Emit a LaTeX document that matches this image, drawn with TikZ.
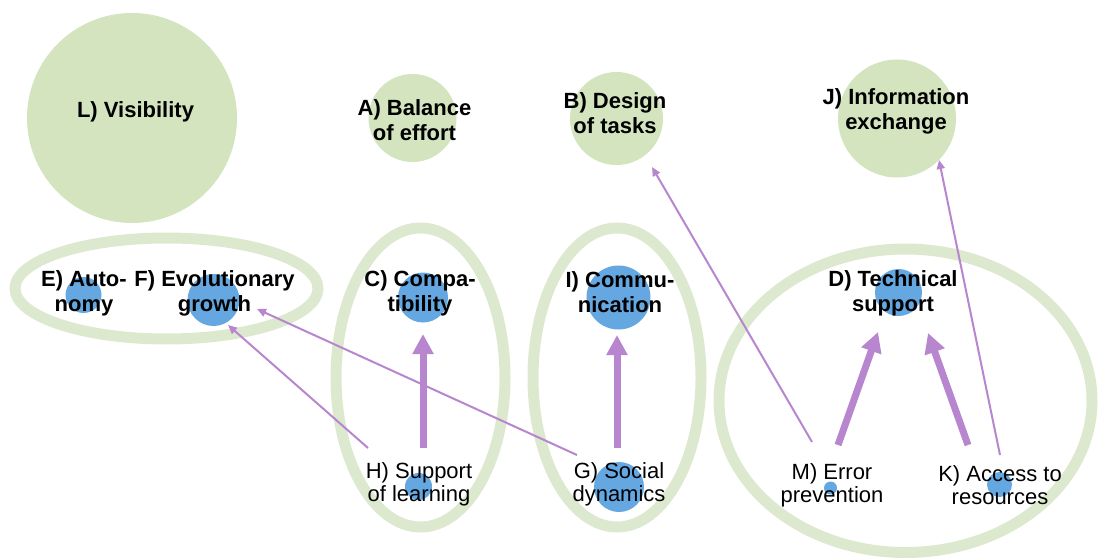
\documentclass[tikz,border=0pt]{standalone}
\usepackage{fontspec}
\setmainfont{Liberation Sans}
\usetikzlibrary{calc,arrows.meta}
\definecolor{leaf}{HTML}{D3E4BF}
\definecolor{ring}{HTML}{DDE9CF}
\definecolor{dotblue}{HTML}{64A7E1}
\definecolor{lilac}{HTML}{B786CE}

\begin{document}
\begin{tikzpicture}[x=1pt,y=-1pt]
\tikzstyle{grp}=[draw=ring,line width=11pt]
\tikzstyle{topic}=[circle,fill=leaf,inner sep=0pt]
\tikzstyle{dot}=[circle,fill=dotblue,inner sep=0pt]
\tikzstyle{head}=[align=center,font=\fontsize{22}{25}\selectfont\bfseries]
\tikzstyle{sub}=[align=center,font=\fontsize{22}{23}\selectfont]
\tikzstyle{strong}=[draw=lilac,line width=7pt,-{Triangle[width=20pt,length=20pt]}]
\tikzstyle{weak}=[draw=lilac,line width=2pt,-{Triangle[width=8pt,length=9pt]}]
\useasboundingbox (0,0) rectangle (1098,559);
% groups
\draw[grp] (166.5,288.5) ellipse [x radius=151.5, y radius=50.5];
\draw[grp] (420.5,377.5) ellipse [x radius=84.5, y radius=149.5];
\draw[grp] (617,377.5)   ellipse [x radius=84, y radius=149.5];
\draw[grp] (905.5,400.75) ellipse [x radius=186.5, y radius=151.75];
% top circles
\node[topic, minimum size=210pt] (cL) at (132,118)   {};
\node[topic, minimum size=88pt]  (cA) at (412.5,118) {};
\node[topic, minimum size=93pt]  (cB) at (616.5,118.5) {};
\node[topic, minimum size=118pt] (cJ) at (897,118.5) {};
% dots
\node[dot, minimum size=36pt] (dE) at (83.5,295)   {};
\node[dot, minimum size=52pt] (dF) at (213.5,300)  {};
\node[dot, minimum size=50pt] (dC) at (423,297.5)  {};
\node[dot, minimum size=64pt] (dI) at (618.5,297.5) {};
\node[dot, minimum size=47pt] (dD) at (898.5,292.5) {};
\node[dot, minimum size=27pt] (dH) at (418.5,486.5) {};
\node[dot, minimum size=50pt] (dG) at (619,487)    {};
\node[dot, minimum size=13pt] (dM) at (830.5,488)  {};
\node[dot, minimum size=25pt] (dK) at (999.5,484.5) {};
% labels
\node[head] (L) at (135.5,112) {L) Visibility};
\node[head] (A) at (414.5,120) {A) Balance\\of effort};
\node[head] (B) at (615,113.5) {B) Design\\of tasks};
\node[head] (J) at (896,111.5) {J) Information\\exchange};
\node[head] (E) at (84,293)    {E) Auto-\\nomy};
\node[head] (F) at (214.5,293.5) {F) Evolutionary\\growth};
\node[head] (C) at (420,293)   {C) Compa-\\tibility};
\node[head] (I) at (620,292)   {I) Commu-\\nication};
\node[head] (D) at (893,293.5) {D) Technical\\support};
\node[sub]  (H) at (419,484.5) {H) Support\\of learning};
\node[sub]  (G) at (619,484.5) {G) Social\\dynamics};
\node[sub]  (M) at (832,485.5) {M) Error\\prevention};
\node[sub]  (K) at (1000,485.5) {K) Access to\\resources};
% links
\draw[strong] ($(H)+(4,-36.5)$)   -- ($(dC)+(0,36.5)$);
\draw[strong] ($(G)+(-2,-36.5)$)  -- ($(dI)+(-1.5,37.5)$);
\draw[strong] ($(M)+(6,-40.5)$)   -- ($(dD)+(-20.5,39.5)$);
\draw[strong] ($(K)+(-32,-40.5)$) -- ($(dD)+(29.5,40.5)$);
\draw[weak] ($(H)+(-51,-36.5)$) -- ($(dF)+(14.5,25)$);
\draw[weak] ($(G)+(-42,-29.5)$) -- ($(dF)+(43.5,9)$);
\draw[weak] ($(M)+(-20,-43.5)$) -- ($(cB)+(35.5,48.5)$);
\draw[weak] ($(K)+(0,-30.5)$)   -- ($(cJ)+(42,41.5)$);
\end{tikzpicture}
\end{document}
